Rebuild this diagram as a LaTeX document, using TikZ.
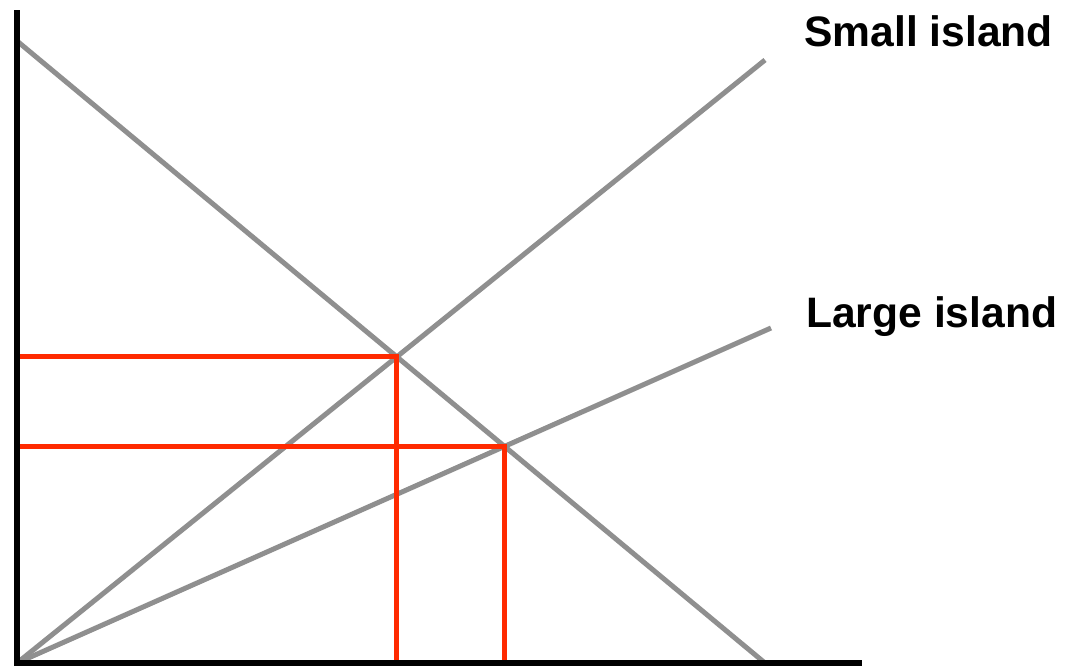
\documentclass[tikz,border=0pt]{standalone}
\usepackage{fontspec}
\setmainfont{Liberation Sans}
\usetikzlibrary{calc}
\definecolor{curve}{HTML}{8F8F8F}
\definecolor{accent}{HTML}{FF2A00}

\begin{document}
\begin{tikzpicture}[x=1pt, y=-1pt, every node/.style={font=\fontsize{42.6}{50}\selectfont\bfseries}]
  \useasboundingbox (0,0) rectangle (1065,665);
  \coordinate (O) at (17,663);
  \coordinate (ytop) at (17,10);
  \coordinate (xend) at (862,663);
  \coordinate (dtop) at (17,41);
  \coordinate (dend) at (765,663);
  \coordinate (send) at (765,60);
  \coordinate (lend) at (771,328);
  \node[anchor=base west, inner sep=0] (small) at (804,46) {Small island};
  \node[anchor=base west, inner sep=0] (large) at (806,327) {Large island};
  \draw[curve, line width=5] (dtop) -- (dend);
  \foreach \e in {send, lend}{
    \draw[curve, line width=5] (O) -- (\e);
  }
  \foreach \e in {send, lend}{
    \coordinate (eq) at (intersection of dtop--dend and O--\e);
    \draw[accent, line width=5] (O |- eq) -- (eq) -- (eq |- O);
  }
  \draw[line width=6] (ytop) -- (O) -- (xend);
\end{tikzpicture}
\end{document}
